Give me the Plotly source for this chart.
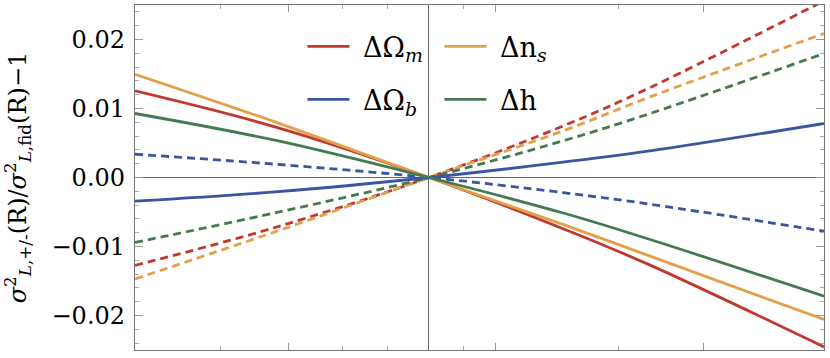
import plotly.graph_objects as go

# x: log10(R / R_pivot), pivot where all curves cross
x = [-1.420, -0.744, 0.0, 0.657, 1.068, 1.908]

om_plus = [0.01255, 0.00734, 0.0, -0.00754, -0.0127, -0.02455]
om_minus = [-0.01275, -0.00725, 0.0, 0.00758, 0.01304, 0.0256]
ob_plus = [-0.00343, -0.00209, 0.0, 0.00226, 0.00386, 0.00783]
ob_minus = [0.00338, 0.00193, 0.0, -0.00223, -0.00387, -0.00778]
ns_plus = [0.01497, 0.00806, 0.0, -0.00691, -0.0114, -0.02058]
ns_minus = [-0.0147, -0.00788, 0.0, 0.00686, 0.01168, 0.02087]
h_plus = [0.00928, 0.0054, 0.0, -0.00522, -0.00899, -0.0172]
h_minus = [-0.00942, -0.00513, 0.0, 0.0054, 0.00928, 0.01797]

x_major = [-0.681, 0.319, 1.324]
x_minor = [-1.005, -0.420, -0.198, 0.169, 0.913]
y_ticks = [-0.02, -0.01, 0.0, 0.01, 0.02]

RED, BLUE, ORANGE, GREEN = "#c0392f", "#3a56a0", "#e3a04a", "#437a50"
FONT = "DejaVu Serif"

series = [
    ("\u00a0ΔΩ<sub><i>m</i></sub>", om_plus, om_minus, RED, "legend"),
    ("\u00a0Δn<sub><i>s</i></sub>", ns_plus, ns_minus, ORANGE, "legend"),
    ("\u00a0ΔΩ<sub><i>b</i></sub>", ob_plus, ob_minus, BLUE, "legend2"),
    ("\u00a0Δh", h_plus, h_minus, GREEN, "legend2"),
]

fig = go.Figure()
for name, yp, ym, col, leg in series:
    fig.add_trace(go.Scatter(x=x, y=ym, mode="lines", showlegend=False,
                             line=dict(color=col, width=2.8, dash="8px,5px", shape="spline", smoothing=1.0)))
for name, yp, ym, col, leg in series:
    fig.add_trace(go.Scatter(x=x, y=yp, mode="lines", name=name, legend=leg,
                             line=dict(color=col, width=2.8, shape="spline", smoothing=1.0)))

leg_style = dict(orientation="h", xanchor="left", yanchor="middle", bgcolor="rgba(0,0,0,0)",
                 font=dict(family=FONT, size=27, color="black"), entrywidth=80, itemwidth=42)

fig.update_layout(
    width=830, height=358,
    margin=dict(l=135, r=6, t=5, b=8),
    paper_bgcolor="white", plot_bgcolor="white",
    font=dict(family=FONT, color="black"),
    legend=dict(x=0.243, y=0.879, **leg_style),
    legend2=dict(x=0.243, y=0.725, **leg_style),
    xaxis=dict(range=[x[0], x[-1]], showgrid=False, showticklabels=False,
               tickvals=x_major, ticks="inside", ticklen=7, tickcolor="#999",
               minor=dict(tickvals=x_minor, ticks="inside", ticklen=4, tickcolor="#aaa"),
               showline=True, linecolor="#777", linewidth=1.3, mirror="allticks",
               zeroline=True, zerolinecolor="#666", zerolinewidth=1.3, automargin=False),
    yaxis=dict(range=[-0.025, 0.025], showgrid=False, tickvals=y_ticks, tickformat=".2f",
               ticks="inside", ticklen=8, tickcolor="#999", ticklabelstandoff=4,
               minor=dict(dtick=0.002, ticks="inside", ticklen=4, tickcolor="#aaa"),
               tickfont=dict(family=FONT, size=24, color="black"),
               showline=True, linecolor="#777", linewidth=1.3, mirror="allticks",
               zeroline=True, zerolinecolor="#666", zerolinewidth=1.3, automargin=False,
               title=dict(text="<i>σ</i><sup>2</sup><sub><i>L</i>,+/-</sub>(R)/<i>σ</i><sup>2</sup><sub><i>L</i>,fid</sub>(R)−1",
                          font=dict(family=FONT, size=24, color="black"), standoff=20)),
)

fig.write_html("out.html", config={"displayModeBar": False},
               post_script="document.body.style.margin='0';")
